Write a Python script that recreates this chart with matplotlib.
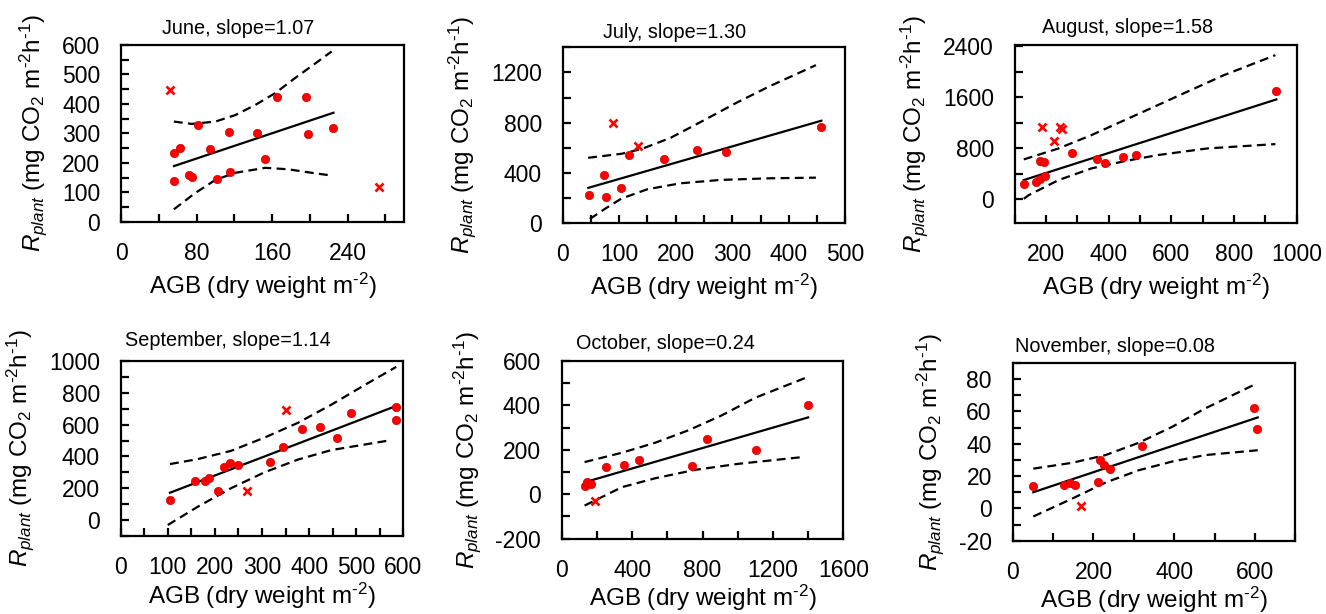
import matplotlib
matplotlib.use('Agg')
import matplotlib.pyplot as plt
from matplotlib.ticker import MultipleLocator

# ---------------- data ----------------
months = ['June', 'July', 'August', 'September', 'October', 'November']
slopes = ['1.07', '1.30', '1.58', '1.14', '0.24', '0.08']

# June
jun_x = [56.5, 62.5, 56.5, 72, 75.6, 81.3, 94.7, 101.8, 115.2, 114.8, 144.5, 152, 165.7, 195.8, 197.9, 224.7]
jun_y = [232, 251, 138, 159, 153, 328, 246, 146, 169, 306, 301, 212, 422, 422, 298, 317]
jun_out_x = [52.3, 273]
jun_out_y = [448, 118]
jun_fit_x = [56.2, 225]
jun_fit_y = [189, 370]
jun_up_x = [56, 75, 100, 121, 142, 163, 184, 206, 223]
jun_up_y = [340, 332, 340, 362, 396, 436, 487, 538, 578]
jun_lo_x = [56, 78, 100, 121, 153, 177, 202, 220]
jun_lo_y = [42, 96, 142, 166, 183, 178, 166, 158]

# July
jul_x = [47, 73.4, 76.3, 102.6, 116.6, 178.5, 237, 289.5, 457.7]
jul_y = [226, 382, 208, 282, 547, 513, 582, 566, 768]
jul_out_x = [89.8, 133]
jul_out_y = [795, 613]
jul_fit_x = [45.3, 457.7]
jul_fit_y = [282, 816]
jul_up_x = [45, 104, 139, 191, 250, 308, 366, 448]
jul_up_y = [521, 553, 590, 680, 820, 960, 1090, 1258]
jul_lo_x = [48, 74, 104, 150, 208, 279, 366, 448]
jul_lo_y = [34, 113, 197, 271, 318, 345, 358, 363]

# August
aug_x = [129, 169, 182, 196, 182, 193, 284, 364, 388, 447, 486, 933]
aug_y = [235, 277, 313, 366, 595, 590, 721, 632, 564, 658, 695, 1697]
aug_out_x = [187, 227, 245, 250]
aug_out_y = [1128, 919, 1128, 1100]
aug_fit_x = [129, 935]
aug_fit_y = [303, 1567]
aug_up_x = [129, 240, 345, 451, 557, 662, 768, 932]
aug_up_y = [627, 799, 1008, 1243, 1478, 1713, 1948, 2261]
aug_lo_x = [129, 145, 240, 345, 451, 557, 715, 932]
aug_lo_y = [10, 68, 303, 486, 600, 695, 799, 867]

# September
sep_x = [104.6, 157, 178, 188, 207.6, 220, 231, 250, 316.7, 343.6, 384, 423.8, 460, 489.7, 585.4, 585.4]
sep_y = [128, 248, 248, 265, 184, 333, 360, 346, 366, 462, 573, 586, 514, 671, 712, 629]
sep_out_x = [350, 267.7]
sep_out_y = [692, 186]
sep_fit_x = [104.6, 585.4]
sep_fit_y = [172, 718]
sep_up_x = [104.6, 163, 234, 305, 376, 447, 518, 585]
sep_up_y = [352, 383, 435, 518, 611, 725, 849, 963]
sep_lo_x = [100, 163, 234, 305, 376, 447, 571]
sep_lo_y = [-31, 83, 200, 300, 380, 440, 501]

# October
oct_x = [134, 143, 168, 251, 353, 438, 742, 824, 1104, 1397]
oct_y = [39, 54, 47, 123, 133, 154, 126, 247, 200, 402]
oct_out_x = [187]
oct_out_y = [-32]
oct_fit_x = [130, 1400]
oct_fit_y = [54, 346]
oct_up_x = [130, 342, 531, 720, 909, 1098, 1385]
oct_up_y = [145, 187, 232, 288, 355, 434, 524]
oct_lo_x = [130, 342, 531, 758, 1003, 1362]
oct_lo_y = [-51, 32, 72, 110, 137, 167]

# November
nov_x = [51.3, 128, 141, 154.5, 210.5, 217, 227, 240, 319.5, 597.5, 605]
nov_y = [14.1, 14.5, 15.9, 14.3, 16.6, 30.2, 26.7, 24.2, 38.5, 61.9, 49.3]
nov_out_x = [168.5]
nov_out_y = [1.2]
nov_fit_x = [51, 607]
nov_fit_y = [10, 56.3]
nov_up_x = [51, 147, 230, 312, 395, 477, 597]
nov_up_y = [24.6, 28.2, 33, 40.6, 50.5, 61.9, 76.4]
nov_lo_x = [51, 147, 230, 312, 395, 477, 607]
nov_lo_y = [-5, 6, 16, 23.6, 29, 33, 36]

series = [
    (jun_x, jun_y, jun_out_x, jun_out_y, jun_fit_x, jun_fit_y, jun_up_x, jun_up_y, jun_lo_x, jun_lo_y),
    (jul_x, jul_y, jul_out_x, jul_out_y, jul_fit_x, jul_fit_y, jul_up_x, jul_up_y, jul_lo_x, jul_lo_y),
    (aug_x, aug_y, aug_out_x, aug_out_y, aug_fit_x, aug_fit_y, aug_up_x, aug_up_y, aug_lo_x, aug_lo_y),
    (sep_x, sep_y, sep_out_x, sep_out_y, sep_fit_x, sep_fit_y, sep_up_x, sep_up_y, sep_lo_x, sep_lo_y),
    (oct_x, oct_y, oct_out_x, oct_out_y, oct_fit_x, oct_fit_y, oct_up_x, oct_up_y, oct_lo_x, oct_lo_y),
    (nov_x, nov_y, nov_out_x, nov_out_y, nov_fit_x, nov_fit_y, nov_up_x, nov_up_y, nov_lo_x, nov_lo_y),
]

# ---------------- layout ----------------
W, H = 1326, 614
# (left, right, top, bottom) in pixels
boxes = [(121, 404.3, 45, 221.7), (562.7, 845.3, 47.3, 223.3), (1014.7, 1296.7, 45, 222.7),
         (120.7, 403.3, 361, 536), (561.7, 843.3, 361, 538.7), (1012.7, 1295.3, 363, 540.7)]
xlims = [(0, 300), (0, 500), (100, 1000), (0, 600), (0, 1600), (0, 700)]
ylims = [(0, 600), (0, 1400), (-365, 2420), (-100, 1000), (-200, 600), (-20, 90)]
xmaj = [80, 100, 200, 100, 400, 200]
xmin = [40, 50, 100, 50, 200, 100]
ymaj = [100, 400, 800, 200, 200, 20]
ymin = [50, 200, 400, 100, 100, 10]
title_pos = [(238, 28), (675, 33), (1128, 27.5), (228, 340), (665, 343.5), (1115, 346)]
xlabelpads = [4, 4, 4, 1.5, 1, 0.5]

plt.rcParams['font.family'] = ['Liberation Sans', 'DejaVu Sans']
plt.rcParams['mathtext.fontset'] = 'custom'
plt.rcParams['mathtext.rm'] = 'Liberation Sans'
plt.rcParams['mathtext.it'] = 'Liberation Sans:italic'
plt.rcParams['mathtext.bf'] = 'Liberation Sans:bold'
plt.rcParams['axes.unicode_minus'] = False

fig = plt.figure(figsize=(W / 100, H / 100), dpi=100)
red = '#ff0000'

for i in range(6):
    l, r, t, b = boxes[i]
    ax = fig.add_axes([l / W, 1 - b / H, (r - l) / W, (b - t) / H])
    px, py, ox, oy, fx, fy, ux, uy, lx, ly = series[i]
    ax.plot(ux, uy, color='black', lw=1.6, dashes=(4, 2.4))
    ax.plot(lx, ly, color='black', lw=1.6, dashes=(4, 2.4))
    ax.plot(fx, fy, color='black', lw=1.6)
    ax.plot(px, py, 'o', color=red, markersize=6, markeredgecolor='#d00000', markeredgewidth=0.5)
    ax.plot(ox, oy, 'x', color=red, markersize=6.3, markeredgewidth=1.9)
    ax.set_xlim(*xlims[i])
    ax.set_ylim(*ylims[i])
    ax.xaxis.set_major_locator(MultipleLocator(xmaj[i]))
    ax.xaxis.set_minor_locator(MultipleLocator(xmin[i]))
    ax.yaxis.set_major_locator(MultipleLocator(ymaj[i]))
    ax.yaxis.set_minor_locator(MultipleLocator(ymin[i]))
    ax.tick_params(which='both', direction='in', length=6, width=1.6, labelsize=16.5)
    ax.tick_params(axis='y', which='major', pad=15)
    ax.tick_params(axis='x', which='major', pad=14.5)
    for s in ax.spines.values():
        s.set_linewidth(1.6)
    ax.set_xlabel(r'AGB (dry weight m$^{\text{-}2}$)', fontsize=17.5, labelpad=xlabelpads[i])
    ax.set_ylabel(r'$R_{plant}$ (mg CO$_2$ m$^{\text{-}2}$h$^{\text{-}1}$)', fontsize=17.5, labelpad=9)
    tx, ty = title_pos[i]
    fig.text(tx / W, 1 - ty / H, f'{months[i]}, slope={slopes[i]}', fontsize=14.3,
             ha='center', va='center')

fig.savefig('out.png', dpi=100)
